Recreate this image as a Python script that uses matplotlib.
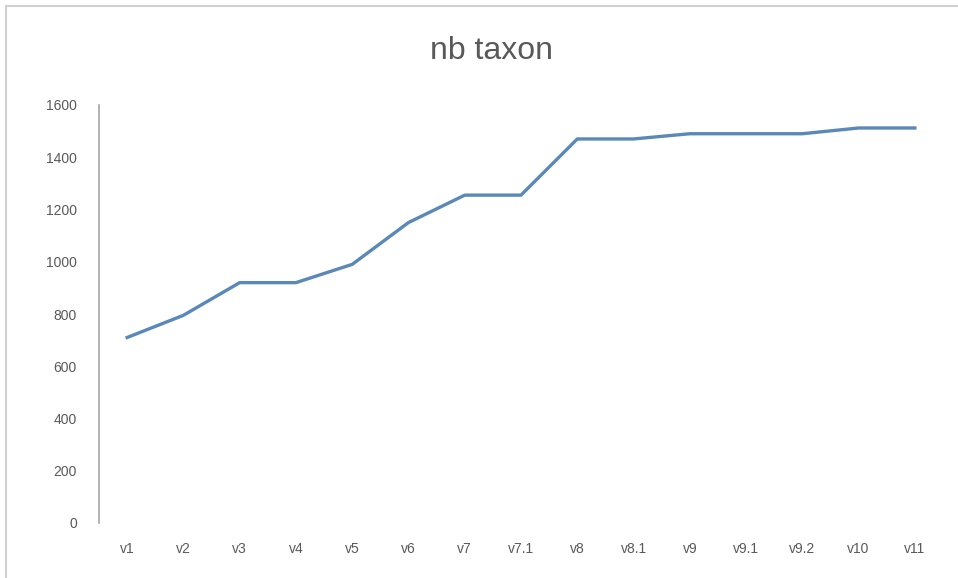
import matplotlib
matplotlib.use("Agg")
import matplotlib.pyplot as plt
from matplotlib.patches import Rectangle

versions = ["v1", "v2", "v3", "v4", "v5", "v6", "v7", "v7.1", "v8",
            "v8.1", "v9", "v9.1", "v9.2", "v10", "v11"]
nb_taxon = [710, 795, 920, 920, 990, 1150, 1255, 1255, 1470,
            1470, 1490, 1490, 1490, 1512, 1512]
y_ticks = [0, 200, 400, 600, 800, 1000, 1200, 1400, 1600]

plt.rcParams["font.family"] = ["Liberation Sans", "DejaVu Sans"]

fig = plt.figure(figsize=(9.58, 5.78), dpi=100)
ax = fig.add_axes([99 / 958, 1 - 523 / 578, (943 - 99) / 958, (523 - 105) / 578])

x = list(range(len(versions)))
ax.plot(x, nb_taxon, color="#5a88b8", linewidth=2.4, solid_joinstyle="round")

ax.set_xlim(-0.5, len(versions) - 0.5)
ax.set_ylim(0, 1600)
ax.set_xticks(x)
ax.set_xticklabels(versions)
ax.set_yticks(y_ticks)

for side in ("top", "right", "bottom"):
    ax.spines[side].set_visible(False)
ax.spines["left"].set_color("#a6a6a6")
ax.spines["left"].set_linewidth(1.2)

ax.tick_params(axis="both", length=0, colors="#595959", labelsize=10)
ax.tick_params(axis="y", pad=16)
ax.tick_params(axis="x", pad=14)

fig.text(491 / 958, 1 - 51 / 578, "nb taxon", ha="center", va="center",
         fontsize=23, color="#595959")

# chart frame
fig.patches.append(Rectangle((6 / 958, -0.1), 1.2, 1 - 6 / 578 + 0.1,
                             transform=fig.transFigure, fill=False,
                             edgecolor="#d0d0d0", linewidth=1.5))

fig.savefig("out.png", dpi=100)
